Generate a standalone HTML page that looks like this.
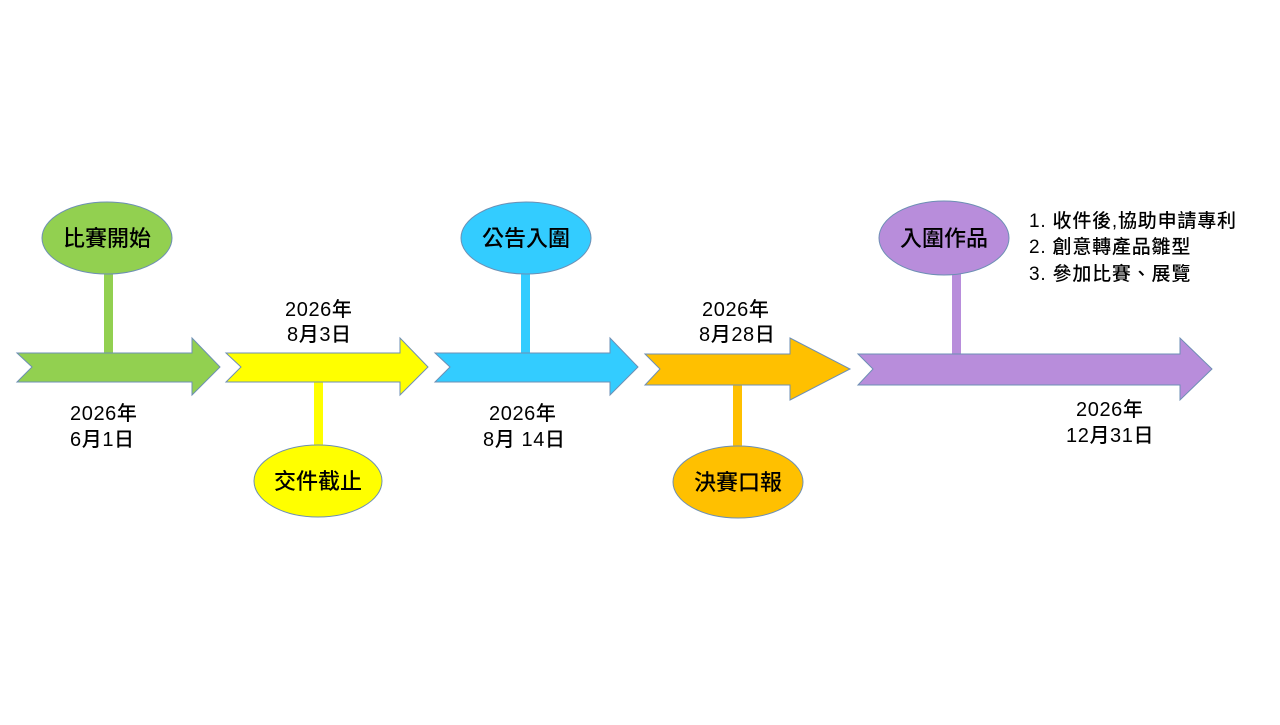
<!DOCTYPE html>
<html><head><meta charset="utf-8"><style>
body{margin:0;background:#fff}
svg text{font-family:"Liberation Sans","Noto Sans CJK TC",sans-serif;fill:#000}
.d{font-size:20px;letter-spacing:0.6px;font-weight:500}
.l{font-size:22px;font-weight:500}
.li{font-size:19px;letter-spacing:0.8px;font-weight:500}
</style></head><body>
<svg width="1280" height="720" viewBox="0 0 1280 720">
<g stroke-width="1">
<rect x="104" y="272" width="9" height="82" fill="#92d050"/>
<rect x="314" y="382" width="9" height="64" fill="#ffff00"/>
<rect x="521" y="270" width="9" height="84" fill="#33ccff"/>
<rect x="733" y="384" width="9" height="64" fill="#ffc000"/>
<rect x="952" y="272" width="9" height="82" fill="#b88ddb"/>
<polygon points="17,353 192,353 192,338 220,367 192,395 192,382 17,382 32,367" fill="#92d050" stroke="#6d8fb4"/>
<polygon points="226,353 400,353 400,338 428,367 400,395 400,382 226,382 241,367" fill="#ffff00" stroke="#6d8fb4"/>
<polygon points="435,353 610,353 610,338 638,367 610,395 610,382 435,382 450,367" fill="#33ccff" stroke="#6d8fb4"/>
<polygon points="645,354 790,354 790,338 850,369 790,400 790,385 645,385 660,369" fill="#ffc000" stroke="#6d8fb4"/>
<polygon points="858,354 1180,354 1180,338 1212,369 1180,400 1180,385 858,385 873,369" fill="#b88ddb" stroke="#6d8fb4"/>
<ellipse cx="107" cy="238" rx="65" ry="36" fill="#92d050" stroke="#6d8fb4"/>
<ellipse cx="318" cy="481" rx="64" ry="36" fill="#ffff00" stroke="#6d8fb4"/>
<ellipse cx="526" cy="238" rx="65" ry="36" fill="#33ccff" stroke="#6d8fb4"/>
<ellipse cx="738" cy="482" rx="65" ry="36" fill="#ffc000" stroke="#6d8fb4"/>
<ellipse cx="944" cy="238" rx="65" ry="37" fill="#b88ddb" stroke="#6d8fb4"/>
</g>
<g class="l" text-anchor="middle">
<text x="107" y="246">比賽開始</text>
<text x="318" y="489">交件截止</text>
<text x="526" y="246">公告入圍</text>
<text x="738" y="490">決賽口報</text>
<text x="944" y="246">入圍作品</text>
</g>
<g class="d">
<text x="70" y="420">2026年</text><text x="70" y="446">6月1日</text>
<text x="285" y="316">2026年</text><text x="287" y="341">8月3日</text>
<text x="489" y="420">2026年</text><text x="483" y="446">8月 14日</text>
<text x="702" y="316">2026年</text><text x="699" y="341">8月28日</text>
<text x="1076" y="416">2026年</text><text x="1066" y="442">12月31日</text>
</g>
<g class="li">
<text x="1029" y="227">1. 收件後,協助申請專利</text>
<text x="1029" y="253">2. 創意轉產品雛型</text>
<text x="1029" y="280">3. 參加比賽、展覽</text>
</g>
</svg>
</body></html>
